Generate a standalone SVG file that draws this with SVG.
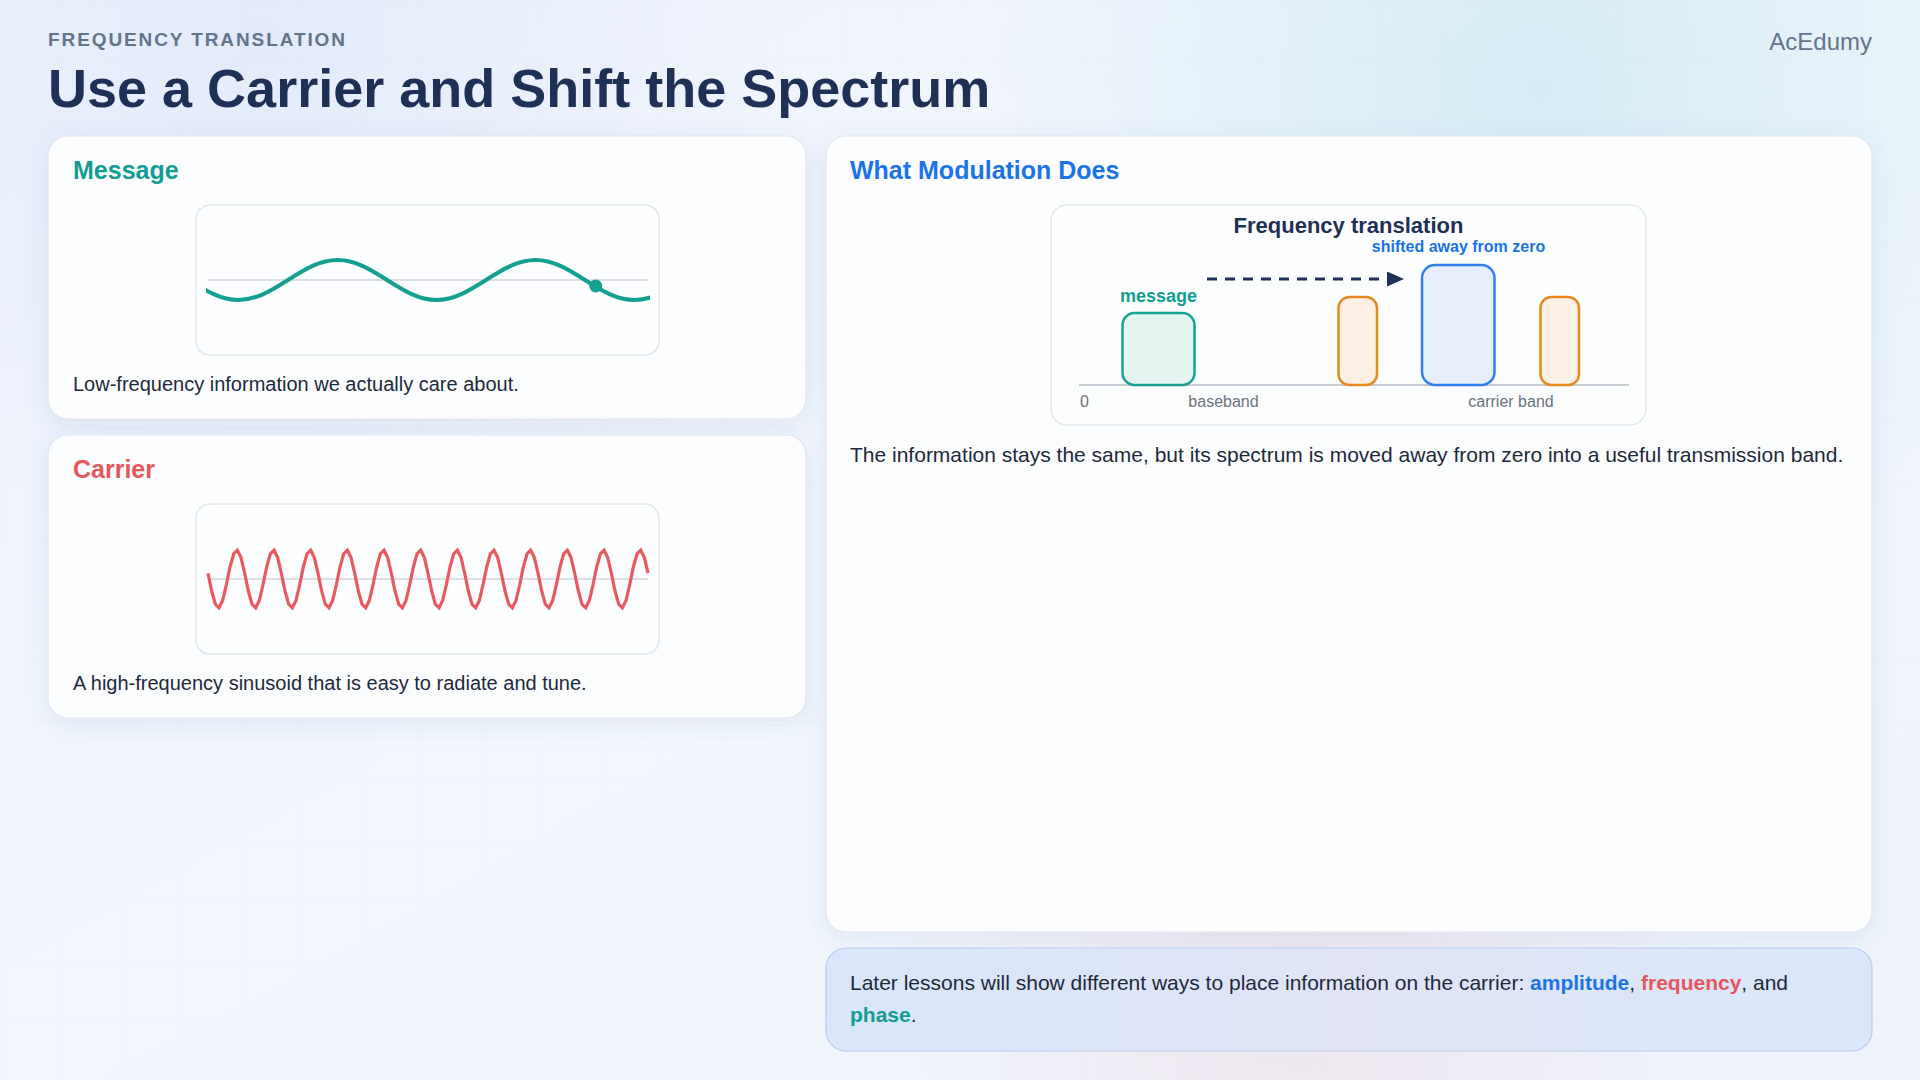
<svg xmlns="http://www.w3.org/2000/svg" width="1920" height="1080" viewBox="0 0 1920 1080">
  <defs>
    <linearGradient id="bg" x1="0" y1="0" x2="1" y2="1">
      <stop offset="0" stop-color="#edf2fc"/>
      <stop offset="0.5" stop-color="#f3f7fd"/>
      <stop offset="1" stop-color="#eef3fb"/>
    </linearGradient>
    <radialGradient id="glowTR" cx="1540" cy="90" r="560" gradientUnits="userSpaceOnUse">
      <stop offset="0" stop-color="#d3ebf5" stop-opacity="0.95"/>
      <stop offset="1" stop-color="#d3ebf5" stop-opacity="0"/>
    </radialGradient>
    <radialGradient id="glowTL" cx="260" cy="40" r="520" gradientUnits="userSpaceOnUse">
      <stop offset="0" stop-color="#e2eafb" stop-opacity="0.9"/>
      <stop offset="1" stop-color="#e2eafb" stop-opacity="0"/>
    </radialGradient>
    <radialGradient id="glowB" cx="1300" cy="1010" r="420" gradientUnits="userSpaceOnUse">
      <stop offset="0" stop-color="#eee2ec" stop-opacity="0.8"/>
      <stop offset="1" stop-color="#eee2ec" stop-opacity="0"/>
    </radialGradient>
    <pattern id="grid" width="60" height="60" patternUnits="userSpaceOnUse">
      <path d="M60 0 L0 0 0 60" fill="none" stroke="#8aa2c8" stroke-opacity="0.08" stroke-width="1"/>
    </pattern>
    <linearGradient id="calloutFill" x1="0" y1="0" x2="1" y2="0">
      <stop offset="0" stop-color="#d9e6fb"/>
      <stop offset="0.5" stop-color="#e0e4f6"/>
      <stop offset="1" stop-color="#dae7fb"/>
    </linearGradient>
    <filter id="shadow" x="-10%" y="-10%" width="120%" height="130%">
      <feDropShadow dx="0" dy="6" stdDeviation="12" flood-color="#3d5c9c" flood-opacity="0.10"/>
    </filter>
    <clipPath id="msgClip">
      <rect x="206" y="220" width="444" height="120"/>
    </clipPath>
    <marker id="arrow" markerUnits="userSpaceOnUse" markerWidth="17" markerHeight="16" refX="0" refY="7.5" orient="auto">
      <path d="M0 0 L17 7.5 L0 15 Z" fill="#1f2f57"/>
    </marker>
    <style>
      .sans { font-family: "Liberation Sans", Arial, Helvetica, sans-serif; }
      .card { fill: #fcfdff; stroke: #dfe6f0; stroke-width: 1.2; }
      .plot { fill: #fdfeff; stroke: #e2e7ee; stroke-width: 1.5; }
      .axis { stroke: #dcdfe5; stroke-width: 2; }
      .cardTitle { font-size: 25px; font-weight: 700; }
      .body { font-size: 20px; fill: #1e293b; }
      .bodyL { font-size: 21px; fill: #1e293b; }
      .small { font-size: 16px; fill: #6b7280; }
      .orange { fill: #fcf0e5; stroke: #e8891f; stroke-width: 2.5; }
    </style>
  </defs>

  <!-- background -->
  <rect width="1920" height="1080" fill="url(#bg)"/>
  <rect width="1920" height="1080" fill="url(#glowTL)"/>
  <rect width="1920" height="1080" fill="url(#glowTR)"/>
  <rect width="1920" height="1080" fill="url(#glowB)"/>
  <rect width="1920" height="1080" fill="url(#grid)"/>

  <!-- header -->
  <g id="header" class="sans">
    <text x="48" y="46" font-size="19" font-weight="700" letter-spacing="1.9" fill="#64748b">FREQUENCY TRANSLATION</text>
    <text x="48" y="107" font-size="54" font-weight="700" fill="#1f3057">Use a Carrier and Shift the Spectrum</text>
    <text x="1872" y="50" font-size="24" fill="#64748b" text-anchor="end">AcEdumy</text>
  </g>

  <!-- Message card -->
  <g id="message-card" class="sans">
    <rect class="card" x="48" y="136" width="758" height="283" rx="20" filter="url(#shadow)"/>
    <text class="cardTitle" x="73" y="179" fill="#119e90">Message</text>
    <rect class="plot" x="196" y="205" width="463" height="150" rx="14"/>
    <line class="axis" x1="208" y1="280" x2="648" y2="280"/>
    <path clip-path="url(#msgClip)" fill="none" stroke="#13a090" stroke-width="4" stroke-linecap="round"
      d="M189 280 c16.14 10.25 31.58 20 49.5 20 c17.92 0 33.36 -9.75 49.5 -20 c16.14 -10.25 31.58 -20 49.5 -20 c17.92 0 33.36 9.75 49.5 20 c16.14 10.25 31.58 20 49.5 20 c17.92 0 33.36 -9.75 49.5 -20 c16.14 -10.25 31.58 -20 49.5 -20 c17.92 0 33.36 9.75 49.5 20 c16.14 10.25 31.58 20 49.5 20 c17.92 0 33.36 -9.75 49.5 -20"/>
    <circle cx="595.7" cy="286" r="6.5" fill="#13a090"/>
    <text class="body" x="73" y="391">Low-frequency information we actually care about.</text>
  </g>

  <!-- Carrier card -->
  <g id="carrier-card" class="sans">
    <rect class="card" x="48" y="435" width="758" height="283" rx="20" filter="url(#shadow)"/>
    <text class="cardTitle" x="73" y="478" fill="#e5575b">Carrier</text>
    <rect class="plot" x="196" y="504" width="463" height="150" rx="14"/>
    <line class="axis" x1="208" y1="579" x2="648" y2="579"/>
    <path fill="none" stroke="#e85a60" stroke-width="3.2" stroke-linejoin="miter" stroke-linecap="butt"
      d="M208 573.24 l3.667 17.8 3.667 13.21 3.667 3.56 3.667 -7.45 3.667 -15.6 3.667 -17.8 3.667 -13.21 3.667 -3.56 3.667 7.45 3.667 15.6 l3.667 17.8 3.667 13.21 3.667 3.56 3.667 -7.45 3.667 -15.6 3.667 -17.8 3.667 -13.21 3.667 -3.56 3.667 7.45 3.667 15.6 l3.667 17.8 3.667 13.21 3.667 3.56 3.667 -7.45 3.667 -15.6 3.667 -17.8 3.667 -13.21 3.667 -3.56 3.667 7.45 3.667 15.6 l3.667 17.8 3.667 13.21 3.667 3.56 3.667 -7.45 3.667 -15.6 3.667 -17.8 3.667 -13.21 3.667 -3.56 3.667 7.45 3.667 15.6 l3.667 17.8 3.667 13.21 3.667 3.56 3.667 -7.45 3.667 -15.6 3.667 -17.8 3.667 -13.21 3.667 -3.56 3.667 7.45 3.667 15.6 l3.667 17.8 3.667 13.21 3.667 3.56 3.667 -7.45 3.667 -15.6 3.667 -17.8 3.667 -13.21 3.667 -3.56 3.667 7.45 3.667 15.6 l3.667 17.8 3.667 13.21 3.667 3.56 3.667 -7.45 3.667 -15.6 3.667 -17.8 3.667 -13.21 3.667 -3.56 3.667 7.45 3.667 15.6 l3.667 17.8 3.667 13.21 3.667 3.56 3.667 -7.45 3.667 -15.6 3.667 -17.8 3.667 -13.21 3.667 -3.56 3.667 7.45 3.667 15.6 l3.667 17.8 3.667 13.21 3.667 3.56 3.667 -7.45 3.667 -15.6 3.667 -17.8 3.667 -13.21 3.667 -3.56 3.667 7.45 3.667 15.6 l3.667 17.8 3.667 13.21 3.667 3.56 3.667 -7.45 3.667 -15.6 3.667 -17.8 3.667 -13.21 3.667 -3.56 3.667 7.45 3.667 15.6 l3.667 17.8 3.667 13.21 3.667 3.56 3.667 -7.45 3.667 -15.6 3.667 -17.8 3.667 -13.21 3.667 -3.56 3.667 7.45 3.667 15.6 l3.667 17.8 3.667 13.21 3.667 3.56 3.667 -7.45 3.667 -15.6 3.667 -17.8 3.667 -13.21 3.667 -3.56 3.667 7.45 3.667 15.6"/>
    <text class="body" x="73" y="690">A high-frequency sinusoid that is easy to radiate and tune.</text>
  </g>

  <!-- What Modulation Does card -->
  <g id="modulation-card" class="sans">
    <rect class="card" x="826" y="136" width="1046" height="796" rx="20" filter="url(#shadow)"/>
    <text class="cardTitle" x="850" y="179" fill="#1a73e8">What Modulation Does</text>
    <rect class="plot" x="1051" y="205" width="595" height="220" rx="16"/>
    <text x="1348.5" y="233" font-size="22" font-weight="700" fill="#1f3057" text-anchor="middle">Frequency translation</text>
    <line x1="1079" y1="385" x2="1629" y2="385" stroke="#c9cdd5" stroke-width="2"/>
    <g id="band-message">
      <rect x="1122.5" y="313" width="72" height="72" rx="12" fill="#e3f4f1" stroke="#17a294" stroke-width="2.5"/>
      <text x="1158.5" y="302" font-size="18" font-weight="700" fill="#119e90" text-anchor="middle">message</text>
    </g>
    <g id="band-lower">
      <rect class="orange" x="1338.5" y="297" width="38.5" height="88" rx="11"/>
    </g>
    <g id="band-carrier">
      <rect x="1422" y="265" width="72.5" height="120" rx="13" fill="#e6eefc" stroke="#2f7ff0" stroke-width="2.5"/>
      <text x="1458.5" y="252" font-size="16" font-weight="700" fill="#1a73e8" text-anchor="middle">shifted away from zero</text>
    </g>
    <g id="band-upper">
      <rect class="orange" x="1540.5" y="297" width="38.5" height="88" rx="11"/>
    </g>
    <text class="small" x="1080" y="407">0</text>
    <text class="small" x="1223.5" y="407" text-anchor="middle">baseband</text>
    <text class="small" x="1511" y="407" text-anchor="middle">carrier band</text>
    <text class="bodyL" x="850" y="461.5">The information stays the same, but its spectrum is moved away from zero into a useful transmission band.</text>
  </g>

  <!-- connectors -->
  <g id="connectors">
    <line x1="1207" y1="279" x2="1387" y2="279" stroke="#1f2f57" stroke-width="3.2" stroke-dasharray="10 8" marker-end="url(#arrow)"/>
  </g>

  <!-- callout -->
  <g id="callout" class="sans">
    <rect x="826" y="948" width="1046" height="103" rx="20" fill="url(#calloutFill)" stroke="#b8ccee" stroke-width="1.2"/>
    <text class="bodyL" x="850" y="990">Later lessons will show different ways to place information on the carrier: <tspan font-weight="700" fill="#1a73e8">amplitude</tspan>, <tspan font-weight="700" fill="#e5575b">frequency</tspan>, and</text>
    <text class="bodyL" x="850" y="1022"><tspan font-weight="700" fill="#119e90">phase</tspan>.</text>
  </g>
</svg>
